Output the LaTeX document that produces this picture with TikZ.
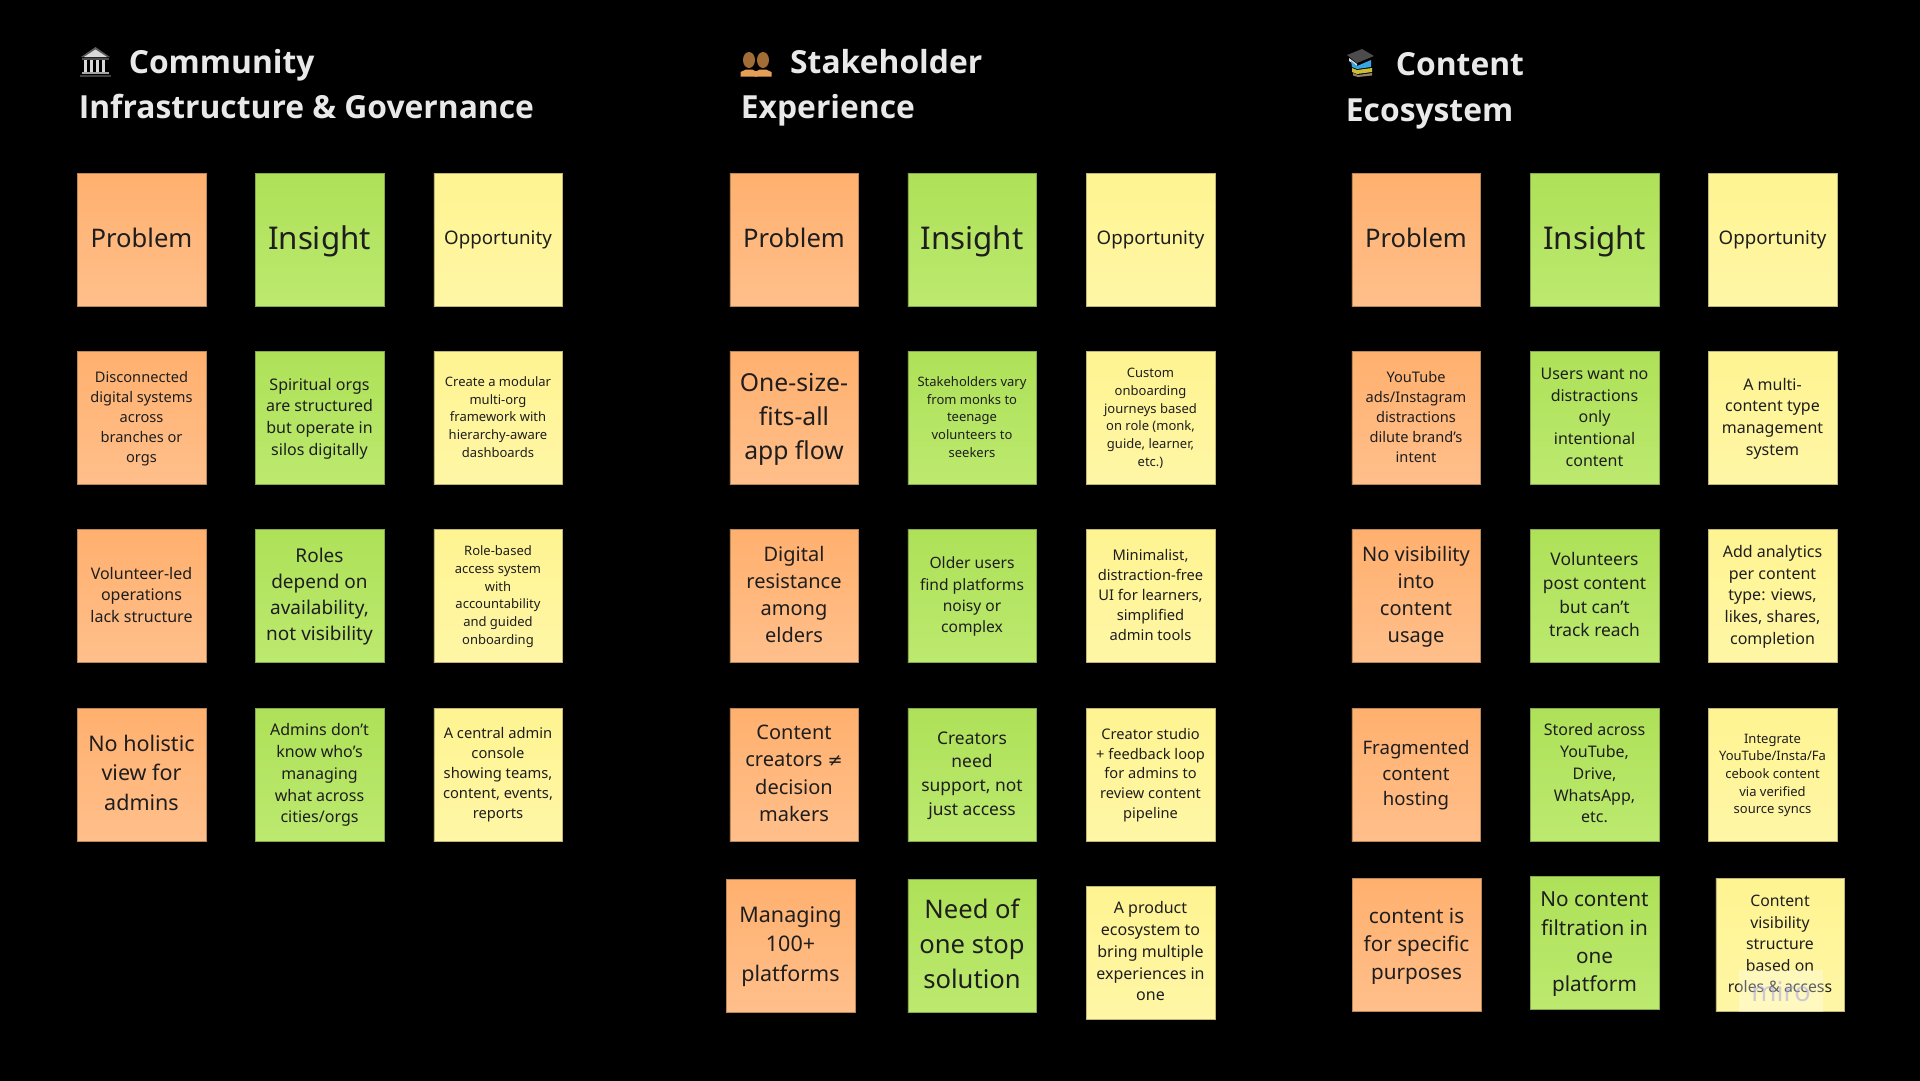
\documentclass[tikz,border=0pt]{standalone}
\usepackage{fontspec}
\setmainfont{Noto Sans}
\newfontfamily\titlefont{Open Sans}
\newfontfamily\symfont{DejaVu Sans}
\newcommand{\stickyfs}[1]{\fontsize{#1}{\dimexpr #1pt*136/100\relax}\selectfont}
\newcommand{\stickytopval}{1em}
\newcommand{\firststrut}{\rule{0pt}{\stickytopval}}
\newcommand{\laststrut}{\rule[-.4em]{0pt}{.4em}}
\newcommand{\fl}{\rule{0pt}{1em}}
\definecolor{inkc}{HTML}{1E1E1E}
\definecolor{titlec}{HTML}{E9E9E9}
\definecolor{stickyOT}{HTML}{FFB06E}
\definecolor{stickyOB}{HTML}{FFBF8B}
\definecolor{stickyGT}{HTML}{AEE158}
\definecolor{stickyGB}{HTML}{BCE96F}
\definecolor{stickyYT}{HTML}{FFF491}
\definecolor{stickyYB}{HTML}{FFF6A6}
\definecolor{edgeO}{HTML}{B98858}
\definecolor{edgeG}{HTML}{88A850}
\definecolor{edgeY}{HTML}{BDB678}
\tikzset{
  sticky/.style={minimum width=128.5pt,minimum height=133pt,inner sep=0pt,align=center,text=inkc,draw=#1,line width=.4pt,
    execute at begin node={\firststrut},execute at end node={\laststrut}},
  prob/.style={sticky=edgeO,top color=stickyOT,bottom color=stickyOB},
  ins/.style={sticky=edgeG,top color=stickyGT,bottom color=stickyGB},
  opp/.style={sticky=edgeY,top color=stickyYT,bottom color=stickyYB},
  fz/.style={font=\stickyfs{#1}},
  hd/.code={\renewcommand{\stickytopval}{#1}},
  titletext/.style={anchor=base west,inner sep=0pt,text=titlec,font=\fontsize{31.8}{40}\selectfont\titlefont\bfseries},
}
\begin{document}
\begin{tikzpicture}[x=1pt,y=-1pt]
\useasboundingbox (0,0) rectangle (1920,1080);
\fill[black] (-3,-3) rectangle (1923,1083);
% titles
\node[titletext] (t1a) at (128.6,73) {Community};
\node[titletext] (t1b) at (78.6,118.2) {Infrastructure \& Governance};
\node[titletext] (t2a) at (790,73) {Stakeholder};
\node[titletext] (t2b) at (740.7,118.2) {Experience};
\node[titletext] (t3a) at (1395.7,75) {Content};
\node[titletext] (t3b) at (1345.7,121) {Ecosystem};
% building icon
\fill[gray!70!black] (81,57) -- (95.5,47) -- (110,57) -- cycle;
\fill[gray!30] (84,57) -- (95.5,49.5) -- (107,57) -- cycle;
\fill[gray!60!black] (82,58) rectangle (109,60);
\foreach \cx in {85.5,91.5,97.5,103.5}{\fill[white!85!black] (\cx-1.7,60) rectangle (\cx+1.7,72);}
\fill[gray!70] (82,72) rectangle (109,74);
\fill[gray!50!black] (80,74.5) rectangle (111,76.8);
% busts icon
\foreach \cx in {749,763}{
  \fill[brown!85!black] (\cx,60) ellipse (6 and 8);
  \fill[brown!50!orange!75!white] (\cx-8.5,76.7) -- (\cx-8.5,72) -- (\cx-3,69.5) -- (\cx+3,69.5) -- (\cx+8.5,72) -- (\cx+8.5,76.7) -- cycle;
}
% books icon
\fill[gray!60!black] (1347,55) -- (1362,49) -- (1374,56) -- (1357,63) -- cycle;
\fill[white!75!gray] (1349,58) -- (1357,64) -- (1357,66) -- (1349,61) -- cycle;
\fill[cyan!80!blue!80!white] (1351,61) -- (1357,66) -- (1371,60) -- (1371,67) -- (1357,69) -- (1352,67) -- cycle;
\fill[brown!30!yellow!70!gray] (1352,68) -- (1357,70) -- (1372,68) -- (1372,72) -- (1357,74) -- (1352,72) -- cycle;
\fill[gray!60!brown] (1353,73) -- (1358,75) -- (1372,73) -- (1372,75.5) -- (1358,77) -- (1353,75.5) -- cycle;
% column 1
\node[prob,fz=25.6,hd=1em] (a1) at (141.5,239.5) {Problem};
\node[ins,fz=31.3,hd=1.06em] (a2) at (319.5,239.5) {Insight};
\node[opp,fz=18.7,hd=.9em] (a3) at (498,239.5) {Opportunity};
\node[prob,fz=14.6] (b1) at (141.5,418) {\fl Disconnected\\digital systems\\across\\branches or\\orgs};
\node[ins,fz=16] (b2) at (319.5,418) {\fl Spiritual orgs\\are structured\\but operate in\\silos digitally};
\node[opp,fz=13] (b3) at (498,418) {\fl Create a modular\\multi-org\\framework with\\hierarchy-aware\\dashboards};
\node[prob,fz=16] (c1) at (141.5,596) {\fl Volunteer-led\\operations\\lack structure};
\node[ins,fz=19] (c2) at (319.5,596) {\fl Roles\\depend on\\availability,\\not visibility};
\node[opp,fz=13] (c3) at (498,596) {\fl Role-based\\access system\\with\\accountability\\and guided\\onboarding};
\node[prob,fz=21.5] (d1) at (141.5,774.5) {\fl No holistic\\view for\\admins};
\node[ins,fz=16] (d2) at (319.5,774.5) {\fl Admins don’t\\know who’s\\managing\\what across\\cities/orgs};
\node[opp,fz=14.7] (d3) at (498,774.5) {\fl A central admin\\console\\showing teams,\\content, events,\\reports};
% column 2
\node[prob,fz=25.6,hd=1em] (e1) at (794,239.5) {Problem};
\node[ins,fz=31.3,hd=1.06em] (e2) at (972,239.5) {Insight};
\node[opp,fz=18.7,hd=.9em] (e3) at (1150.5,239.5) {Opportunity};
\node[prob,fz=24.7] (f1) at (794,418) {\fl One-size-\\fits-all\\app flow};
\node[ins,fz=13] (f2) at (972,418) {\fl Stakeholders vary\\from monks to\\teenage\\volunteers to\\seekers};
\node[opp,fz=13] (f3) at (1150.5,418) {\fl Custom\\onboarding\\journeys based\\on role (monk,\\guide, learner,\\etc.)};
\node[prob,fz=20] (g1) at (794,596) {\fl Digital\\resistance\\among\\elders};
\node[ins,fz=15.6] (g2) at (972,596) {\fl Older users\\find platforms\\noisy or\\complex};
\node[opp,fz=14.7] (g3) at (1150.5,596) {\fl Minimalist,\\distraction-free\\UI for learners,\\simplified\\admin tools};
\node[prob,fz=20] (h1) at (794,774.5) {\fl Content\\creators {\symfont\fontsize{18}{27}\selectfont ≠}\\decision\\makers};
\node[ins,fz=17.4] (h2) at (972,774.5) {\fl Creators\\need\\support, not\\just access};
\node[opp,fz=14.6] (h3) at (1150.5,774.5) {\fl Creator studio\\+ feedback loop\\for admins to\\review content\\pipeline};
\node[prob,fz=21.5] (i1) at (790.5,945.5) {\fl Managing\\100+\\platforms};
\node[ins,fz=25.6] (i2) at (972,945.5) {\fl Need of\\one stop\\solution};
\node[opp,fz=16] (i3) at (1150.5,952.5) {\fl A product\\ecosystem to\\bring multiple\\experiences in\\one};
% column 3
\node[prob,fz=25.6,hd=1em] (j1) at (1416,239.5) {Problem};
\node[ins,fz=31.3,hd=1.06em] (j2) at (1594.5,239.5) {Insight};
\node[opp,fz=18.7,hd=.9em] (j3) at (1772.5,239.5) {Opportunity};
\node[prob,fz=14.6] (k1) at (1416,418) {\fl YouTube\\ads/Instagram\\distractions\\dilute brand's\\intent};
\node[ins,fz=16] (k2) at (1594.5,418) {\fl Users want no\\distractions\\only\\intentional\\content};
\node[opp,fz=16] (k3) at (1772.5,418) {\fl A multi-\\content type\\management\\system};
\node[prob,fz=20] (l1) at (1416,596) {\fl No visibility\\into\\content\\usage};
\node[ins,fz=17.4] (l2) at (1594.5,596) {\fl Volunteers\\post content\\but can’t\\track reach};
\node[opp,fz=16] (l3) at (1772.5,596) {\fl Add analytics\\per content\\type: views,\\likes, shares,\\completion};
\node[prob,fz=18.6] (m1) at (1416,774.5) {\fl Fragmented\\content\\hosting};
\node[ins,fz=16] (m2) at (1594.5,774.5) {\fl Stored across\\YouTube,\\Drive,\\WhatsApp,\\etc.};
\node[opp,fz=13] (m3) at (1772.5,774.5) {\fl Integrate\\YouTube/Insta/Fa\\cebook content\\via verified\\source syncs};
\node[prob,fz=20.7] (n1) at (1416.5,945) {\fl content is\\for specific\\purposes};
\node[ins,fz=20.7] (n2) at (1594.5,943) {\fl No content\\filtration in\\one\\platform};
\node[opp,fz=15.8] (n3) at (1780,945) {\fl Content\\visibility\\structure\\based on\\roles \& access};
% watermark
\fill[white,opacity=.3] (1739,970) rectangle (1823,1012);
\node[inner sep=0pt,text=gray!40!blue!45!white,opacity=.55,font=\fontsize{27}{30}\selectfont] (wm) at (1781,992) {miro};
\end{tikzpicture}
\end{document}
